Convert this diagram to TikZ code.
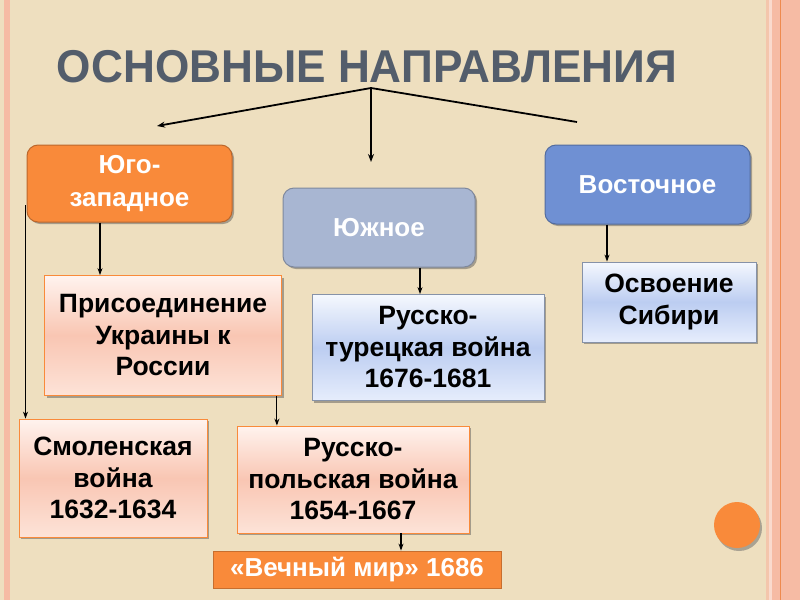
\documentclass[tikz,border=0pt]{standalone}
\usepackage{fontspec}
\setmainfont{Liberation Sans}
\usetikzlibrary{arrows.meta,shadows}

\definecolor{bgbeige}{HTML}{EEDFBF}
\definecolor{stripepink}{HTML}{F6BBA4}
\definecolor{stripeline}{HTML}{EE8A4E}
\definecolor{titlegray}{HTML}{535D6B}
\definecolor{dirorange}{HTML}{F98A3A}
\definecolor{dirgray}{HTML}{A8B6D2}
\definecolor{dirblue}{HTML}{6F90D3}
\definecolor{pinktop}{HTML}{FFF3EE}
\definecolor{pinkmid}{HTML}{F9C6B3}
\definecolor{pinkbot}{HTML}{FDE3D8}
\definecolor{bluetop}{HTML}{F5F8FE}
\definecolor{bluemid}{HTML}{BCCDF1}
\definecolor{bluebot}{HTML}{E6EDFC}

\tikzset{
  boxshadow/.style={drop shadow={shadow xshift=2pt,shadow yshift=-2pt,opacity=.45,fill=black!70}},
  dirbox/.style={rounded corners=11pt, draw=#1!75!black, line width=1pt, fill=#1,
    text=white, font=\bfseries\fontsize{26}{33}\selectfont, align=center,
    inner sep=0pt, boxshadow},
  pinkbox/.style={draw=dirorange, line width=.8pt, top color=pinktop, bottom color=pinkbot,
    middle color=pinkmid, font=\bfseries\fontsize{26.5}{31.5}\selectfont, align=center,
    inner sep=0pt, boxshadow},
  bluebox/.style={draw=dirgray!80!black, line width=.8pt, top color=bluetop, bottom color=bluebot,
    middle color=bluemid, font=\bfseries\fontsize{26.5}{31.5}\selectfont, align=center,
    inner sep=0pt, boxshadow},
  fan/.style={line width=1.8pt, black},
  arr/.style={line width=1.1pt, -{Stealth[length=7pt,width=5pt]}},
}

\begin{document}
\begin{tikzpicture}[x=1pt,y=-1pt]
  % background and border stripes
  \fill[bgbeige] (0,0) rectangle (800,600);
  \useasboundingbox (0,0) rectangle (800,600);
  \fill[stripepink] (4,0) rectangle (9.5,600);
  \fill[stripepink!70!bgbeige] (766,0) rectangle (768.5,600);
  \fill[stripepink!55!white] (768.5,0) rectangle (772,600);
  \fill[stripepink] (772,0) rectangle (800,600);
  \draw[stripeline, line width=1.2pt] (780.5,0) -- (780.5,600);

  % title
  \node[text=titlegray, font=\bfseries\fontsize{46}{46}\selectfont] (title) at (367,67)
    {\scalebox{0.96}[1]{ОСНОВНЫЕ НАПРАВЛЕНИЯ}};

  % fan of arrows
  \coordinate (apex) at (371,88);
  \coordinate (fanL) at (157,126);
  \coordinate (fanD) at (371,162);
  \coordinate (fanR) at (577,122);
  \draw[fan,-{Stealth[length=8pt,width=6pt]}] (apex) -- (fanL);
  \draw[fan,-{Stealth[length=8pt,width=6pt]}] (apex) -- (fanD);
  \draw[fan] (apex) -- (fanR);

  % directions
  \node[dirbox=dirorange, minimum width=205pt, minimum height=77pt] (yugo) at (129.5,183.5) {Юго-\\западное};
  \node[dirbox=dirgray, minimum width=192pt, minimum height=79pt] (yuzh) at (379,227.5) {Южное};
  \node[dirbox=dirblue, minimum width=205pt, minimum height=79pt] (vost) at (647.5,184.5) {Восточное};

  % events
  \node[pinkbox, minimum width=237pt, minimum height=120pt] (prisoed) at (163,335.5) {Присоединение\\Украины к\\России};
  \node[bluebox, minimum width=232pt, minimum height=106pt] (turk) at (428,347.5) {Русско-\\турецкая война\\1676-1681};
  \node[bluebox, minimum width=174pt, minimum height=80pt] (sibir) at (669,302) {Освоение\\Сибири};
  \node[pinkbox, minimum width=188pt, minimum height=118pt] (smol) at (113,478) {Смоленская\\война\\1632-1634};
  \node[pinkbox, minimum width=232pt, minimum height=107pt] (pol) at (353,479.5) {Русско-\\польская война\\1654-1667};
  \node[draw=dirorange!80!black, line width=.8pt, fill=dirorange, text=white, inner sep=0pt,
    minimum width=288pt, minimum height=37pt, font=\bfseries\fontsize{26}{28}\selectfont] (mir) at (357,569.5) {«Вечный мир» 1686};

  % decoration
  \fill[black!60, opacity=.5] (739,528) circle (23);
  \fill[dirorange] (737,525) circle (23);

  % connectors
  \draw[arr] ([xshift=-29.5pt]yugo.south) coordinate (a1) -- (a1 |- prisoed.north);
  \draw[arr] ([xshift=41pt]yuzh.south) coordinate (a2) -- (a2 |- turk.north);
  \draw[arr] ([xshift=-40.5pt]vost.south) coordinate (a3) -- (a3 |- sibir.north);
  \draw[arr] ([shift={(-1,21.5)}]yugo.west) coordinate (a4) -- (a4 |- smol.north);
  \draw[arr] ([xshift=-5pt]prisoed.south east) coordinate (a5) -- (a5 |- pol.north);
  \draw[arr] ([xshift=48pt]pol.south) coordinate (a6) -- (a6 |- mir.north);
\end{tikzpicture}
\end{document}
